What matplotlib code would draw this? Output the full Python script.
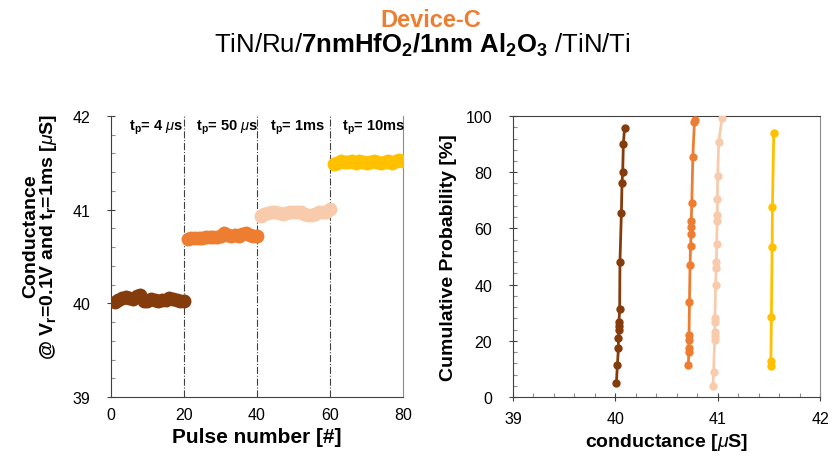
import matplotlib
matplotlib.use("Agg")
import matplotlib.pyplot as plt
from matplotlib.ticker import MultipleLocator
import numpy as np

plt.rcParams['font.family'] = ['Liberation Sans', 'DejaVu Sans']
plt.rcParams['mathtext.fontset'] = 'custom'
plt.rcParams['mathtext.rm'] = 'Liberation Sans'
plt.rcParams['mathtext.bf'] = 'Liberation Sans:bold'
plt.rcParams['mathtext.it'] = 'Liberation Sans:italic'
plt.rcParams['mathtext.sf'] = 'Liberation Sans'

# ---- data ----
pulse_labels = ["t$_\\mathbf{p}$= 4 $\\mu$s", "t$_\\mathbf{p}$= 50 $\\mu$s",
                "t$_\\mathbf{p}$= 1ms", "t$_\\mathbf{p}$= 10ms"]
colors = ["#843C0C", "#ED7D31", "#F8CBAD", "#FFC000"]

pulses_4us = list(range(1, 21))
g_4us = [40.01, 40.04, 40.06, 40.065, 40.06, 40.05, 40.08, 40.085, 40.03, 40.02,
         40.05, 40.04, 40.03, 40.035, 40.04, 40.06, 40.05, 40.04, 40.03, 40.02]
pulses_50us = list(range(21, 41))
g_50us = [40.69, 40.70, 40.70, 40.70, 40.70, 40.705, 40.705, 40.71, 40.71, 40.72,
          40.75, 40.73, 40.72, 40.73, 40.72, 40.74, 40.75, 40.73, 40.72, 40.72]
pulses_1ms = list(range(41, 61))
g_1ms = [40.93, 40.95, 40.96, 40.97, 40.97, 40.96, 40.95, 40.96, 40.97, 40.98,
         40.975, 40.97, 40.95, 40.94, 40.94, 40.95, 40.97, 40.97, 40.98, 41.01]
pulses_10ms = list(range(61, 81))
g_10ms = [41.49, 41.50, 41.52, 41.51, 41.51, 41.52, 41.50, 41.52, 41.51, 41.50,
          41.51, 41.52, 41.51, 41.50, 41.51, 41.52, 41.50, 41.52, 41.53, 41.52]

cdf_x_4us = [40.01, 40.02, 40.03, 40.03, 40.035, 40.035, 40.035, 40.042, 40.045,
             40.059, 40.065, 40.072, 40.078, 40.09]
cdf_p_4us = [4.9, 11.4, 17.4, 21.1, 24.0, 25.2, 26.6, 31.3, 48.2, 65.6, 76.2, 80.1, 90.0, 95.6]
cdf_x_50us = [40.714, 40.717, 40.717, 40.72, 40.72, 40.724, 40.73, 40.735, 40.74,
              40.742, 40.742, 40.747, 40.757, 40.773, 40.775]
cdf_p_50us = [11.4, 15.9, 17.4, 20.4, 22.2, 33.7, 47.0, 53.6, 58.0, 60.4, 62.5, 68.9, 85.5, 98.0, 98.5]
cdf_x_1ms = [40.954, 40.96, 40.97, 40.97, 40.97, 40.973, 40.973, 40.98, 40.985,
             40.988, 40.99, 40.995, 40.997, 40.997, 41.0, 41.01, 41.042]
cdf_p_1ms = [4.0, 9.0, 20.4, 21.8, 23.2, 26.6, 28.1, 39.9, 45.9, 47.9, 54.4, 62.7,
             64.8, 70.5, 78.8, 90.6, 99.3]
cdf_x_10ms = [41.52, 41.52, 41.525, 41.532, 41.535, 41.548]
cdf_p_10ms = [11.1, 12.9, 28.4, 53.5, 67.7, 94.0]

seg_pulses = [pulses_4us, pulses_50us, pulses_1ms, pulses_10ms]
seg_g = [g_4us, g_50us, g_1ms, g_10ms]
cdf_x = [cdf_x_4us, cdf_x_50us, cdf_x_1ms, cdf_x_10ms]
cdf_p = [cdf_p_4us, cdf_p_50us, cdf_p_1ms, cdf_p_10ms]
boundaries = [20, 40, 60]
label_pos = [12.3, 31.8, 51.2, 72.0]

fig = plt.figure(figsize=(8.32, 4.64), dpi=100)

fig.text(0.518, 0.942, "Device-C", color="#ED7D31", fontsize=17, fontweight='bold',
         ha='center', va='baseline')
fig.text(0.508, 0.886, r"TiN/Ru/$\mathbf{7nmHfO_2/1nm\ Al_2O_3}$ /TiN/Ti", fontsize=18.5,
         ha='center', va='baseline')

dark = "#404040"
gray = "#8c8c8c"

# ---- left plot ----
ax1 = fig.add_axes([0.1334, 0.1422, 0.351, 0.6056])
for p, g, c in zip(seg_pulses, seg_g, colors):
    ax1.plot(p, g, '-o', color=c, lw=5, ms=9, mec=c, solid_capstyle='round', zorder=3)
for b in boundaries:
    ax1.axvline(b, color=dark, lw=0.8, ls='-.', zorder=1)
for xp, lab in zip(label_pos, pulse_labels):
    ax1.text(xp, 41.88, lab, fontsize=10.5, fontweight='bold', ha='center', va='center')
ax1.set_xlim(0, 80)
ax1.set_ylim(39, 42)
ax1.xaxis.set_major_locator(MultipleLocator(20))
ax1.yaxis.set_major_locator(MultipleLocator(1))
ax1.yaxis.set_minor_locator(MultipleLocator(0.2))
ax1.tick_params(axis='both', which='major', direction='inout', length=6, width=0.8,
                colors=dark, labelcolor='black', labelsize=11.5)
ax1.tick_params(axis='y', which='major', pad=12)
ax1.tick_params(axis='y', which='minor', direction='in', length=3, width=0.8, colors=gray)
ax1.tick_params(axis='x', which='major', length=0, pad=7)
ax1.spines['top'].set_visible(False)
ax1.spines['right'].set_color(gray)
ax1.spines['left'].set_color(dark)
ax1.spines['bottom'].set_color(dark)
ax1.set_xlabel("Pulse number [#]", fontsize=15, fontweight='bold', labelpad=4)
ax1.set_ylabel("Conductance\n@ V$_\\mathbf{r}$=0.1V and t$_\\mathbf{r}$=1ms [$\\mu$S]",
               fontsize=14, fontweight='bold', linespacing=0.95)
ax1.yaxis.set_label_coords(-0.178, 0.575)

# ---- right plot ----
ax2 = fig.add_axes([0.6166, 0.1422, 0.369, 0.6056])
for x, p, c in zip(cdf_x, cdf_p, colors):
    ax2.plot(x, p, '-o', color=c, lw=2, ms=5, mec=c, zorder=3)
ax2.set_xlim(39, 42)
ax2.set_ylim(0, 100)
ax2.xaxis.set_major_locator(MultipleLocator(1))
ax2.xaxis.set_minor_locator(MultipleLocator(0.2))
ax2.yaxis.set_major_locator(MultipleLocator(20))
ax2.yaxis.set_minor_locator(MultipleLocator(4))
ax2.tick_params(axis='both', which='major', direction='inout', length=6, width=0.8,
                colors=dark, labelcolor='black', labelsize=11.5)
ax2.tick_params(axis='y', which='major', pad=12)
ax2.tick_params(axis='x', which='major', pad=7)
ax2.tick_params(axis='both', which='minor', direction='in', length=3, width=0.8, colors=gray)
ax2.spines['top'].set_color(dark)
ax2.spines['right'].set_color(gray)
ax2.spines['left'].set_color(dark)
ax2.spines['bottom'].set_color(dark)
ax2.set_xlabel("conductance [$\\mu$S]", fontsize=14, fontweight='bold', labelpad=4)
ax2.set_ylabel("Cumulative Probability [%]", fontsize=14, fontweight='bold', labelpad=6)

fig.savefig("out.png", dpi=100)
